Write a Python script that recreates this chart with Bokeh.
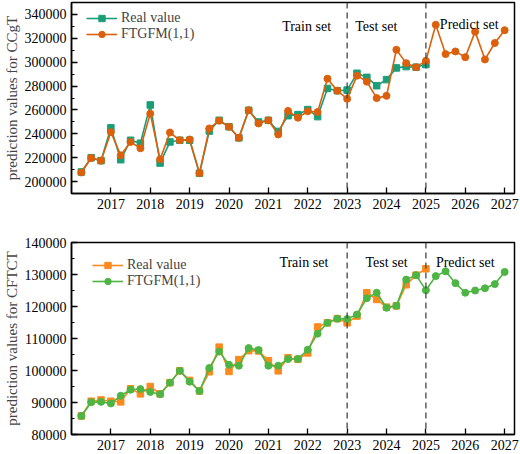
from bokeh.plotting import figure
from bokeh.layouts import column
from bokeh.models import Span, Label, FixedTicker, NumeralTickFormatter
from bokeh.embed import file_html
from bokeh.resources import INLINE
import numpy as np

# Quarterly time axis, 2016 Q1 end .. 2027
quarters = list(np.round(np.arange(2016.25, 2027.01, 0.25), 2))
year_ticks = [2017, 2018, 2019, 2020, 2021, 2022, 2023, 2024, 2025, 2026, 2027]

# CCgT series
ccgt_real = [208000, 220000, 217500, 245000, 218300, 234600, 232100, 264200,
             215500, 233200, 234600, 234600, 207000, 242300, 251300, 245900,
             236600, 259700, 249900, 251300, 242000, 255200, 256100, 260300,
             254400, 278000, 276100, 276600, 290700, 287300, 280300, 285400,
             295200, 296300, 295800, 298000]
ccgt_model = [207600, 219700, 217500, 241400, 222000, 233200, 227900, 256900,
              218600, 241100, 234600, 235200, 207000, 244500, 251000, 245900,
              236600, 259700, 248700, 251300, 239400, 259200, 253500, 258900,
              258300, 286200, 276100, 269300, 288700, 283700, 269900, 271800,
              310400, 299200, 295800, 301100, 331300, 306800, 309000, 304200,
              325600, 302300, 316100, 326800]

# CFTCT series
cftct_real = [85800, 90400, 90800, 90400, 90200, 94300, 92700, 95000,
              92700, 96200, 99900, 96900, 93600, 99600, 107300, 99700,
              103400, 106200, 106100, 103100, 99900, 104000, 103500, 105500,
              113600, 114900, 116200, 114900, 117000, 124300, 122200, 119800,
              120200, 126800, 129800, 131800]
cftct_model = [85800, 90100, 90200, 89700, 92100, 94000, 94200, 93300,
               92600, 96200, 99900, 96500, 93600, 100800, 105900, 101800,
               101500, 107000, 106400, 101500, 101500, 103600, 103600, 106500,
               111500, 114900, 116200, 116100, 117500, 122600, 124300, 119600,
               120200, 128400, 129800, 125100, 129500, 131000, 127300, 124300,
               125000, 125700, 127000, 130800]

split_years = [2023, 2025]
phase_names = ["Train set", "Test set", "Predict set"]

FONT = "Liberation Serif"


def make_panel(height, y_range, y_major, y_title, real, model, real_color,
               model_color, real_marker, model_marker, borders, legend_loc,
               phase_pos):
    p = figure(width=520, height=height, x_range=(2016, 2027.25), y_range=y_range,
               output_backend="svg", toolbar_location=None,
               min_border_left=borders[0], min_border_right=borders[1],
               min_border_top=borders[2], min_border_bottom=borders[3])
    p.xgrid.visible = False
    p.ygrid.visible = False
    p.outline_line_color = "black"
    p.outline_line_width = 1.5
    p.background_fill_color = "white"

    p.xaxis.ticker = FixedTicker(ticks=year_ticks)
    p.yaxis.ticker = FixedTicker(ticks=y_major,
                                 minor_ticks=[v + (y_major[1] - y_major[0]) / 2 for v in y_major[:-1]])
    p.yaxis.formatter = NumeralTickFormatter(format="0")
    for ax in (p.xaxis[0], p.yaxis[0]):
        ax.axis_line_width = 1.5
        ax.axis_line_color = "black"
        ax.major_tick_in = 6
        ax.major_tick_out = 0
        ax.minor_tick_in = 3
        ax.minor_tick_out = 0
        ax.major_tick_line_width = 1.3
        ax.minor_tick_line_width = 1.0
        ax.major_label_text_font = FONT
        ax.major_label_text_font_size = "14px"
        ax.major_label_text_color = "black"
        ax.major_label_standoff = 5
    p.xaxis.minor_tick_in = 0
    p.yaxis.axis_label = y_title
    p.yaxis.axis_label_text_font = FONT
    p.yaxis.axis_label_text_font_size = "15px"
    p.yaxis.axis_label_text_font_style = "normal"
    p.yaxis.axis_label_standoff = 2

    xr = quarters[:len(real)]
    p.line(xr, real, line_color=real_color, line_width=1.6, legend_label="Real value")
    p.scatter(xr, real, marker=real_marker, size=6.5, fill_color=real_color,
              line_color=real_color, legend_label="Real value")
    p.line(quarters, model, line_color=model_color, line_width=1.6, legend_label="FTGFM(1,1)")
    p.scatter(quarters, model, marker=model_marker, size=7, fill_color=model_color,
              line_color=model_color, legend_label="FTGFM(1,1)")

    for yr in split_years:
        p.add_layout(Span(location=yr, dimension="height", line_color="#444444",
                          line_width=1.3, line_dash="6 4"))

    for name, (lx, ly) in zip(phase_names, phase_pos):
        p.add_layout(Label(x=lx, y=ly, text=name, text_align="center",
                           text_baseline="middle", text_font=FONT,
                           text_font_size="14px", text_color="black"))

    lg = p.legend[0]
    lg.location = legend_loc
    lg.border_line_alpha = 0
    lg.background_fill_alpha = 0
    lg.padding = 0
    lg.margin = 0
    lg.spacing = 0
    lg.glyph_width = 31
    lg.glyph_height = 16
    lg.label_height = 16
    lg.label_standoff = 4
    lg.label_text_font = FONT
    lg.label_text_font_size = "14px"
    return p


top = make_panel(227, (190000, 350000),
                 [200000, 220000, 240000, 260000, 280000, 300000, 320000, 340000],
                 "prediction values for CCgT", ccgt_real, ccgt_model,
                 "#1a9e78", "#dc600c", "square", "circle",
                 (67, 5, 2, 34), (15, 151),
                 [(2021.97, 329700), (2023.74, 329700), (2026.1, 331400)])

bottom = make_panel(227, (80000, 140000),
                    [80000, 90000, 100000, 110000, 120000, 130000, 140000],
                    "prediction values for CFTCT", cftct_real, cftct_model,
                    "#fb8a1e", "#4cb544", "square", "circle",
                    (64, 6, 15, 20), (21, 145),
                    [(2021.9, 133900), (2024.0, 133900), (2026.0, 133900)])

layout = column(top, bottom, spacing=0)
open("out.html", "w").write(file_html(layout, INLINE))
